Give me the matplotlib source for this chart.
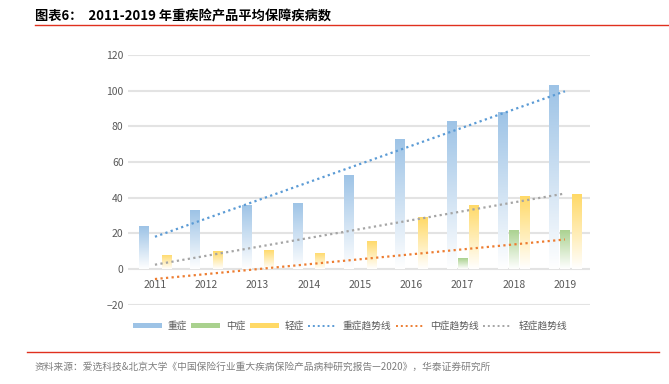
"""2011-2019 年重疾险产品平均保障疾病数: gradient bars + linear trend lines."""
import numpy as np
import matplotlib
matplotlib.use("Agg")
import matplotlib.pyplot as plt
from matplotlib.colors import LinearSegmentedColormap
from matplotlib.patches import Patch
from matplotlib.lines import Line2D

plt.rcParams["font.family"] = ["Noto Sans CJK SC", "DejaVu Sans"]

# ---- data ----
YEARS = ["2011", "2012", "2013", "2014", "2015", "2016", "2017", "2018", "2019"]
SEVERE = [24, 33, 36, 37, 53, 73, 83, 88, 103]     # 重症
MODERATE = [0, 0, 0, 0, 0, 0, 6, 22, 22]            # 中症
MILD = [8, 10, 11, 9, 16, 29, 36, 41, 42]           # 轻症
SERIES_NAMES = ["重症", "中症", "轻症"]
TREND_NAMES = ["重症趋势线", "中症趋势线", "轻症趋势线"]

TITLE = "图表6：  2011-2019 年重疾险产品平均保障疾病数"
SOURCE = "资料来源：爱选科技&北京大学《中国保险行业重大疾病保险产品病种研究报告—2020》，华泰证券研究所"

# ---- style ----
BAR_TOP = ["#9DC3E6", "#A9D18E", "#FFD966"]
TREND_COL = ["#5B9BD5", "#ED7D31", "#A5A5A5"]
TEXT_COL = "#595959"
GRID_COL = "#E3E3E3"
RED = "#E0301E"
BAR_W = 0.18
OFFSETS = [-0.22, 0.0, 0.22]

fig = plt.figure(figsize=(6.69, 3.84), dpi=100)
ax = fig.add_axes([0.191, 0.206, 0.691, 0.651])

x = np.arange(len(YEARS))
grad = np.linspace(0, 1, 256).reshape(-1, 1)

for vals, top, off in zip([SEVERE, MODERATE, MILD], BAR_TOP, OFFSETS):
    cmap = LinearSegmentedColormap.from_list("g", ["#FFFFFF", top])
    bars = ax.bar(x + off, vals, BAR_W, facecolor="none", edgecolor="none", zorder=3)
    for b in bars:
        h = b.get_height()
        if h <= 0:
            continue
        x0 = b.get_x()
        im = ax.imshow(grad, cmap=cmap, aspect="auto", origin="lower",
                       extent=[x0, x0 + BAR_W, 0, h], vmin=0, vmax=1, zorder=3)
        im.set_clip_path(b)

# linear trend lines fitted to each series
for vals, col in zip([SEVERE, MODERATE, MILD], TREND_COL):
    k, c = np.polyfit(x, vals, 1)
    ax.plot(x, k * x + c, color=col, linestyle=(0, (1, 1.5)), linewidth=1.6, zorder=4)

ax.set_xlim(-0.53, 8.49)
ax.set_ylim(-20, 120)
ax.set_yticks(np.arange(-20, 121, 20))
ax.yaxis.grid(True, color=GRID_COL, linewidth=1.5, zorder=0)
ax.set_axisbelow(True)
ax.set_xticks(x)
ax.set_xticklabels(YEARS)
ax.spines["bottom"].set_position(("data", 0))
for s in ax.spines.values():
    s.set_visible(False)
ax.tick_params(axis="both", length=0, colors=TEXT_COL, labelsize=7.5)
ax.tick_params(axis="x", pad=8)
ax.tick_params(axis="y", pad=3)

# legend
handles = [Patch(facecolor=c, edgecolor="none") for c in BAR_TOP]
handles += [Line2D([], [], color=c, linestyle=(0, (1, 1.5)), linewidth=1.4) for c in TREND_COL]
fig.legend(handles, SERIES_NAMES + TREND_NAMES, ncol=6, frameon=False,
           loc="center", bbox_to_anchor=(0.523, 0.151), fontsize=7,
           labelcolor=TEXT_COL, handlelength=3.0, handleheight=0.5,
           columnspacing=0.4, handletextpad=0.6)

# title and source with red rules
fig.text(0.052, 0.958, TITLE, fontsize=9.5, fontweight="bold", color="#000000",
         va="center", ha="left")
fig.add_artist(Line2D([0.052, 1.0], [0.935, 0.935], color=RED, linewidth=1.0))
fig.add_artist(Line2D([0.04, 0.985], [0.083, 0.083], color=RED, linewidth=1.0))
fig.text(0.052, 0.045, SOURCE, fontsize=7, color="#7F7F7F", va="center", ha="left")

fig.savefig("out.png", dpi=100)
